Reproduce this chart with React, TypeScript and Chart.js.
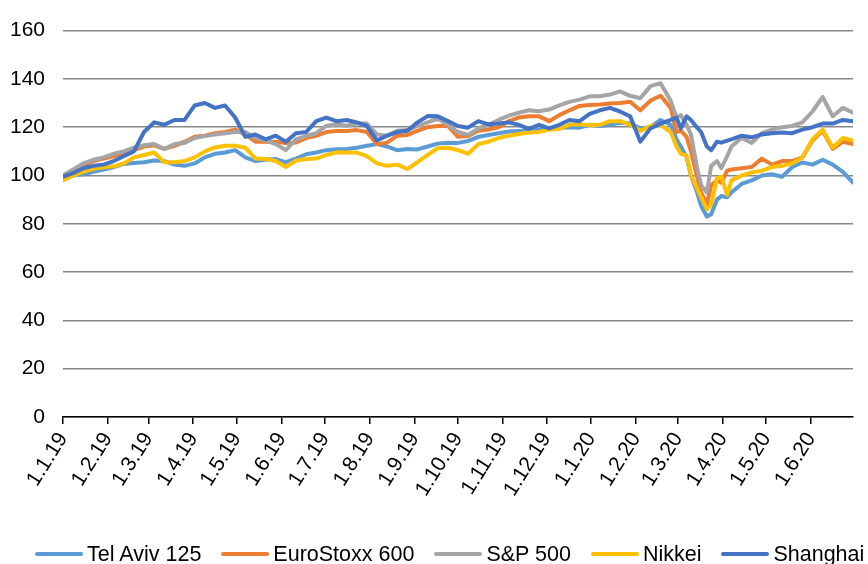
import React, { useEffect, useRef } from "react";
import { Chart, registerables } from "chart.js";

Chart.register(...registerables);

// Calendar day offsets from 1.1.19
const days = [
  0, 7, 14, 21, 28, 35, 42, 49, 56, 63,
  70, 77, 84, 91, 98, 105, 112, 119, 126, 133,
  140, 147, 154, 161, 168, 175, 182, 189, 196, 203,
  210, 217, 224, 231, 238, 245, 252, 259, 266, 273,
  280, 287, 294, 301, 308, 315, 322, 329, 336, 343,
  350, 357, 364, 371, 378, 385, 392, 399, 406, 413,
  420, 424, 427, 431, 434, 438, 441, 445, 448, 452, 455, 459, 462,
  469, 476, 483, 490, 497, 504, 511, 518, 525, 532, 539, 546,
];

const telAviv = [
  99, 100, 100.5, 101.5, 102.5, 103.5, 104.8, 105.2, 105.5, 106.2,
  106, 104.5, 104, 105, 107.5, 109, 109.5, 110.5, 107.5, 106,
  106.5, 106.8, 105.5, 107, 108.8, 109.5, 110.5, 110.9, 111, 111.5,
  112.3, 113, 112, 110.5, 111, 110.8, 112, 113.2, 113.6, 113.5,
  114.3, 116, 116.8, 117.5, 118.2, 118.4, 118.5, 119, 119.6, 119.8,
  120, 119.8, 121, 120.5, 121, 121.8, 121.5, 119.5, 120, 123,
  121, 115, 112, 107.5, 100, 93.5, 87.5, 83, 84, 90, 91.5, 91, 93,
  96.5, 98, 100, 100.5, 99.5, 103.5, 105.4, 104.5, 106.5, 104.5, 101.5, 97,
];

const euroStoxx = [
  100, 102, 104, 106, 107, 108, 109.5, 110.5, 112, 112.5,
  111, 112.3, 114, 116, 116.5, 117.5, 118, 119, 117, 114,
  114, 114, 113.5, 113.7, 115.5, 116.4, 118, 118.4, 118.4, 118.8,
  118, 113, 113.6, 116.5, 116.8, 118.5, 120, 120.5, 120.5, 116,
  116.4, 118.5, 119, 120, 122.5, 124, 124.5, 124.5, 122.5, 125,
  127, 128.8, 129.2, 129.4, 129.8, 130, 130.5, 127, 131, 133,
  128, 118, 118.5, 116, 110, 100, 93, 88, 96, 98, 97, 102, 102.5,
  103, 103.5, 107, 104.5, 106, 106, 107.5, 114.5, 118.5, 111, 114, 113,
];

const sp500 = [
  100, 102.5, 105, 106.5, 107.5, 109, 110, 111.5, 112.5, 113,
  111, 113, 113.5, 115.5, 116.3, 117, 117.5, 118, 118, 115.5,
  114.5, 113, 110.5, 115, 116.4, 117.5, 120.5, 121.2, 120.6, 121.5,
  121.5, 117, 116.5, 118.5, 118.8, 120.5, 122, 123.5, 121, 118,
  116.8, 119.5, 121, 123, 124.8, 126, 127, 126.6, 127.3, 129,
  130.5, 131.4, 132.8, 132.8, 133.5, 134.8, 133, 132, 137, 138.2,
  131, 124, 125, 121, 117, 104, 96, 93, 104, 106, 103, 108, 112,
  115.5, 113.5, 117.5, 119, 120, 120.5, 122, 126.5, 132.5, 124.5, 128, 126,
];

const nikkei = [
  98, 100, 101.5, 102.8, 103.4, 103.8, 105, 107.5, 108.5, 109.5,
  105.5, 105.5, 106, 107.5, 110, 111.6, 112.3, 112.3, 111.5, 107,
  106.8, 106, 103.5, 106.2, 106.8, 107, 108.5, 109.6, 109.5, 109.5,
  108, 105, 104, 104.5, 102.7, 105.5, 108.5, 111.3, 111.5, 110.5,
  109, 113, 114, 115.5, 116.5, 117.2, 117.8, 118, 119, 119.3,
  121, 121.2, 120.8, 121, 122.5, 122.5, 121, 118.5, 120.5, 121,
  118, 112, 109, 108.2, 100, 95, 91, 86, 88, 99, 99.5, 92, 98,
  100, 101.3, 102, 103.5, 104, 105, 107.5, 115, 119, 111.5, 115.5, 114.5,
];

const shanghai = [
  99.5, 101, 103, 104, 104.5, 106, 108, 110, 118, 122,
  121, 123, 123, 129, 130, 128, 129, 124, 116, 117,
  115, 116.5, 114, 117.5, 118, 122.5, 124, 122.5, 123, 122,
  120.5, 114.5, 116.5, 118, 118.5, 122, 124.6, 124.5, 122.5, 120.5,
  119.8, 122.5, 121.2, 121.5, 122, 121, 119.3, 121, 119.5, 121,
  123, 122.5, 125.5, 127, 128, 126.5, 124.5, 114, 119.5, 121.5,
  123, 124, 119.5, 124.5, 123, 120, 118, 112, 110.5, 114, 113.6, 114.4, 115,
  116.5, 115.8, 117, 117.5, 117.8, 117.5, 119, 120, 121.5, 121.5, 123, 122.5,
];

const seriesNames = ["Tel Aviv 125", "EuroStoxx 600", "S&P 500", "Nikkei", "Shanghai"];
const seriesColors = ["#5B9BD5", "#ED7D31", "#A5A5A5", "#FFC000", "#4472C4"];
const seriesValues = [telAviv, euroStoxx, sp500, nikkei, shanghai];

const tickDays = [0, 31, 59, 90, 120, 151, 181, 212, 243, 273, 304, 334, 365, 396, 425, 456, 486, 517];
const tickLabels = [
  "1.1.19", "1.2.19", "1.3.19", "1.4.19", "1.5.19", "1.6.19", "1.7.19", "1.8.19", "1.9.19",
  "1.10.19", "1.11.19", "1.12.19", "1.1.20", "1.2.20", "1.3.20", "1.4.20", "1.5.20", "1.6.20",
];

const FONT = "'Liberation Sans', Arial, Helvetica, sans-serif";

export default function App() {
  const ref = useRef<HTMLCanvasElement | null>(null);

  useEffect(() => {
    document.body.style.margin = "0";
    const canvas = ref.current;
    if (!canvas) return;
    const datasets = seriesNames.map((name, i) => ({
      label: name,
      data: days.map((d, j) => ({ x: d, y: seriesValues[i][j] })),
      borderColor: seriesColors[i],
      backgroundColor: seriesColors[i],
      borderWidth: 4,
      pointRadius: 0,
      tension: 0,
      fill: false,
      order: seriesNames.length - i,
      borderCapStyle: "round" as const,
      borderJoinStyle: "round" as const,
    }));
    const chart = new Chart(canvas, {
      type: "line",
      data: { datasets },
      options: {
        animation: false,
        responsive: false,
        devicePixelRatio: 1,
        layout: { padding: { top: 27, right: 15, left: 0, bottom: 0 } },
        plugins: { legend: { display: false }, tooltip: { enabled: false } },
        scales: {
          x: {
            type: "linear",
            min: 0,
            max: 546,
            afterBuildTicks: (s: any) => {
              s.ticks = tickDays.map((v) => ({ value: v }));
            },
            afterFit: (s: any) => {
              s.height = 147;
            },
            ticks: {
              autoSkip: false,
              minRotation: 58,
              maxRotation: 58,
              padding: 4,
              color: "#000",
              font: { family: FONT, size: 21 },
              callback: (_v: any, i: number) => tickLabels[i],
            },
            grid: {
              drawOnChartArea: false,
              drawTicks: true,
              tickLength: 7,
              color: "#000",
              lineWidth: 1.5,
            },
            border: { display: true, color: "#000", width: 1.5 },
          },
          y: {
            min: 0,
            max: 160,
            afterFit: (s: any) => {
              s.width = 63;
            },
            ticks: {
              stepSize: 20,
              padding: 18,
              color: "#000",
              font: { family: FONT, size: 21 },
            },
            grid: { drawTicks: false, color: "#878787", lineWidth: 1.5 },
            border: { display: false },
          },
        },
      },
    });
    return () => chart.destroy();
  }, []);

  return (
    <div style={{ position: "relative", width: 868, height: 564, overflow: "hidden", background: "#fff" }}>
      <canvas ref={ref} width={868} height={564} style={{ display: "block" }} />
      <div
        style={{
          position: "absolute",
          left: 35,
          top: 544,
          display: "flex",
          alignItems: "center",
          whiteSpace: "nowrap",
          fontFamily: FONT,
          fontSize: 21.5,
          lineHeight: "20px",
          color: "#000",
        }}
      >
        {seriesNames.map((name, i) => (
          <div key={name} style={{ display: "flex", alignItems: "center", marginRight: 20 }}>
            <span
              style={{
                display: "inline-block",
                width: 48,
                height: 4,
                borderRadius: 2,
                background: seriesColors[i],
                marginRight: 4,
              }}
            />
            <span>{name}</span>
          </div>
        ))}
      </div>
    </div>
  );
}
